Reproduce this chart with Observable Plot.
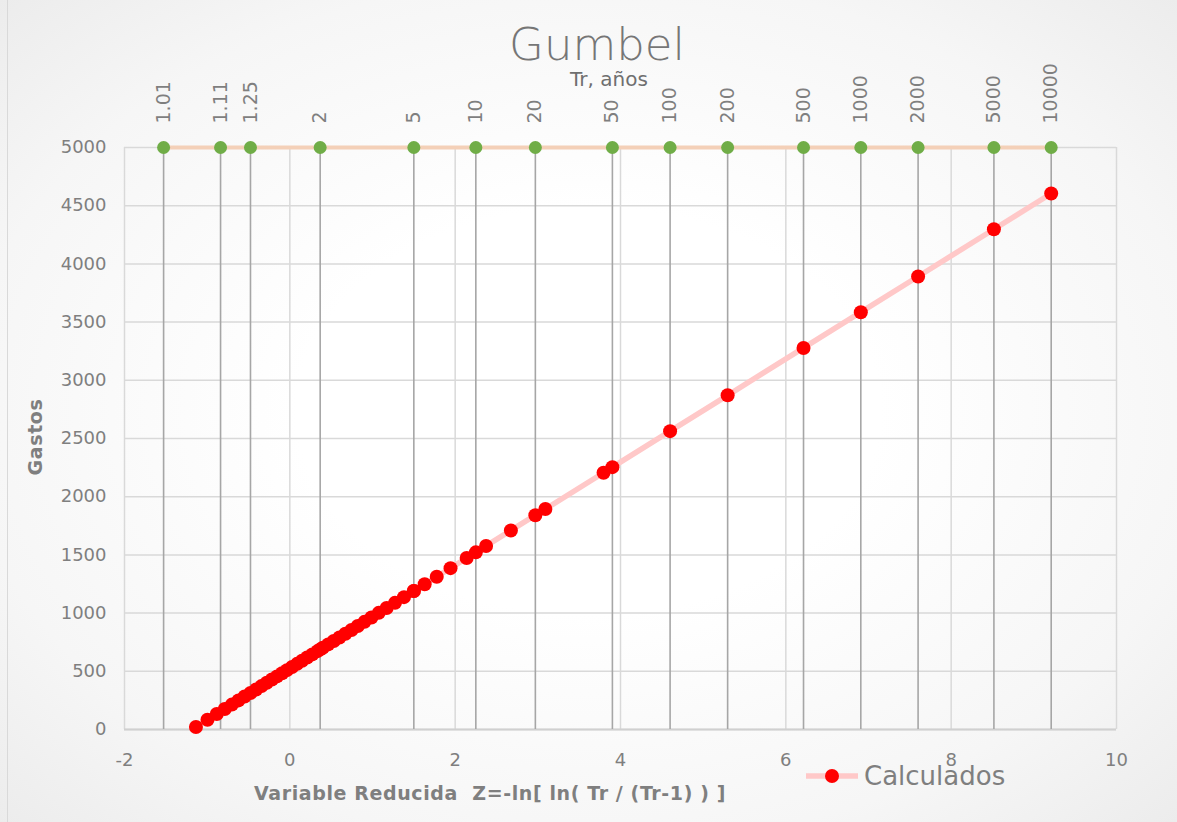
<!DOCTYPE html>
<html>
<head>
<meta charset="utf-8">
<script src="https://cdn.jsdelivr.net/npm/d3@7"></script>
<script src="https://cdn.jsdelivr.net/npm/@observablehq/plot@0.6"></script>
<style>
  html, body { margin: 0; padding: 0; }
  #chart {
    position: relative; width: 1177px; height: 822px; overflow: hidden;
    background: radial-gradient(ellipse at 50% 50%, #ffffff 35%, #f6f6f6 75%, #ececec 100%);
    font-family: "DejaVu Sans", sans-serif; color: #7f7f7f;
  }
  #chart svg { position: absolute; left: 0; top: 0; }
  .abs { position: absolute; white-space: pre; line-height: 1; }
  #frame { position: absolute; left: 7px; top: 0; width: 1px; height: 822px; background: #d9d9d9; }
  #title { left: 597px; top: 25px; transform: translateX(-50%); font-size: 45px; font-weight: 300; color: #767676; line-height: 0.9; }
  #subtitle { left: 609px; top: 70px; transform: translateX(-50%); font-size: 20px; color: #6f6f6f; line-height: 0.9; }
  #xlabel { left: 490px; top: 784px; transform: translateX(-50%); font-size: 19px; letter-spacing: 0.6px; font-weight: bold; color: #7f7f7f; }
  #ylabel { left: 35px; top: 437px; transform: translate(-50%, -50%) rotate(-90deg); font-size: 19px; letter-spacing: 0.6px; font-weight: bold; color: #7f7f7f; }
  #legend { left: 802px; top: 763px; display: flex; align-items: center; }
  #legend span { font-size: 26px; color: #7f7f7f; margin-left: 4px; }
</style>
</head>
<body>
<div id="chart">
  <div id="frame"></div>
</div>
<script>
// Return periods (Tr, años) and their reduced variable Z
const trLabels = ["1.01","1.11","1.25","2","5","10","20","50","100","200","500","1000","2000","5000","10000"];
const trZ = [-1.527, -0.838, -0.476, 0.367, 1.500, 2.250, 2.970, 3.902, 4.600, 5.296, 6.214, 6.907, 7.600, 8.517, 9.210];
const trLevel = 5000;

// "Calculados" series: reduced variable Z and Gastos
const calcZ = [-1.136, -0.996, -0.884, -0.787, -0.701, -0.621, -0.547, -0.476, -0.408, -0.343,
  -0.279, -0.217, -0.155, -0.094, -0.034, 0.027, 0.088, 0.148, 0.209, 0.272,
  0.335, 0.367, 0.399, 0.464, 0.531, 0.600, 0.672, 0.746, 0.822, 0.903,
  0.987, 1.076, 1.171, 1.272, 1.381, 1.500, 1.500, 1.631, 1.777, 1.944,
  2.139, 2.250, 2.374, 2.674, 2.970, 3.091, 3.795, 3.902, 4.600, 5.296,
  6.214, 6.907, 7.600, 8.517, 9.210];
const calcQ = [22, 84, 133, 176, 214, 250, 283, 314, 344, 373,
  401, 429, 456, 483, 510, 537, 564, 591, 618, 645,
  673, 688, 702, 731, 760, 791, 823, 855, 889, 925,
  962, 1002, 1044, 1088, 1137, 1190, 1190, 1248, 1312, 1386,
  1473, 1522, 1577, 1710, 1841, 1894, 2206, 2254, 2563, 2871,
  3278, 3585, 3892, 4298, 4605];

const xTicks = [-2, 0, 2, 4, 6, 8, 10];
const yTicks = [0, 500, 1000, 1500, 2000, 2500, 3000, 3500, 4000, 4500, 5000];

const title = "Gumbel";
const subtitle = "Tr, años";
const xTitle = "Variable Reducida  Z=-ln[ ln( Tr / (Tr-1) ) ]";
const yTitle = "Gastos";
const seriesName = "Calculados";

const calc = calcZ.map((z, i) => ({z, q: calcQ[i]}));
const tr = trZ.map((z, i) => ({z, q: trLevel, label: trLabels[i]}));

const plot = Plot.plot({
  width: 1177,
  height: 822,
  marginLeft: 124,
  marginRight: 61,
  marginTop: 147,
  marginBottom: 93,
  style: {background: "transparent", fontFamily: "DejaVu Sans, sans-serif", fontSize: "18px", color: "#7f7f7f", overflow: "visible"},
  x: {domain: [-2, 10], ticks: xTicks, tickSize: 0, tickPadding: 24, tickFormat: d => String(d), label: null},
  y: {domain: [0, 5000], ticks: yTicks, tickSize: 0, tickPadding: 18, tickFormat: d => String(d), label: null},
  marks: [
    Plot.ruleY(yTicks, {stroke: "#d9d9d9", strokeWidth: 1.5}),
    Plot.ruleX(xTicks, {stroke: "#d9d9d9", strokeWidth: 1.5}),
    Plot.ruleY([0], {stroke: "#d0d0d0", strokeWidth: 2}),
    Plot.ruleX(tr, {x: "z", y1: 0, y2: "q", stroke: "#a6a6a6", strokeWidth: 1.6}),
    Plot.line(tr, {x: "z", y: "q", stroke: "#f4d0b8", strokeWidth: 4}),
    Plot.line(calc, {x: "z", y: "q", stroke: "#ffc8c8", strokeWidth: 5.5}),
    Plot.dot(calc, {x: "z", y: "q", r: 7, fill: "#ff0000", stroke: "none"}),
    Plot.dot(tr, {x: "z", y: "q", r: 6.5, fill: "#70ad47", stroke: "none"}),
    Plot.text(tr, {x: "z", y: "q", text: "label", rotate: -90, textAnchor: "start", dy: -24, fontSize: 19, fill: "#7f7f7f"})
  ]
});
const chart = document.getElementById("chart");
chart.appendChild(plot);

function addDiv(id, text) {
  const d = document.createElement("div");
  d.id = id; d.className = "abs"; d.textContent = text;
  chart.appendChild(d);
  return d;
}
addDiv("title", title);
addDiv("subtitle", subtitle);
addDiv("xlabel", xTitle);
addDiv("ylabel", yTitle);

const leg = document.createElement("div");
leg.id = "legend"; leg.className = "abs";
leg.innerHTML = `<svg width="58" height="20" style="position:static"><line x1="4" y1="10" x2="56" y2="10" stroke="#ffc8c8" stroke-width="5.5"/><circle cx="30" cy="10" r="7" fill="#ff0000"/></svg><span></span>`;
leg.querySelector("span").textContent = seriesName;
chart.appendChild(leg);
</script>
</body>
</html>
